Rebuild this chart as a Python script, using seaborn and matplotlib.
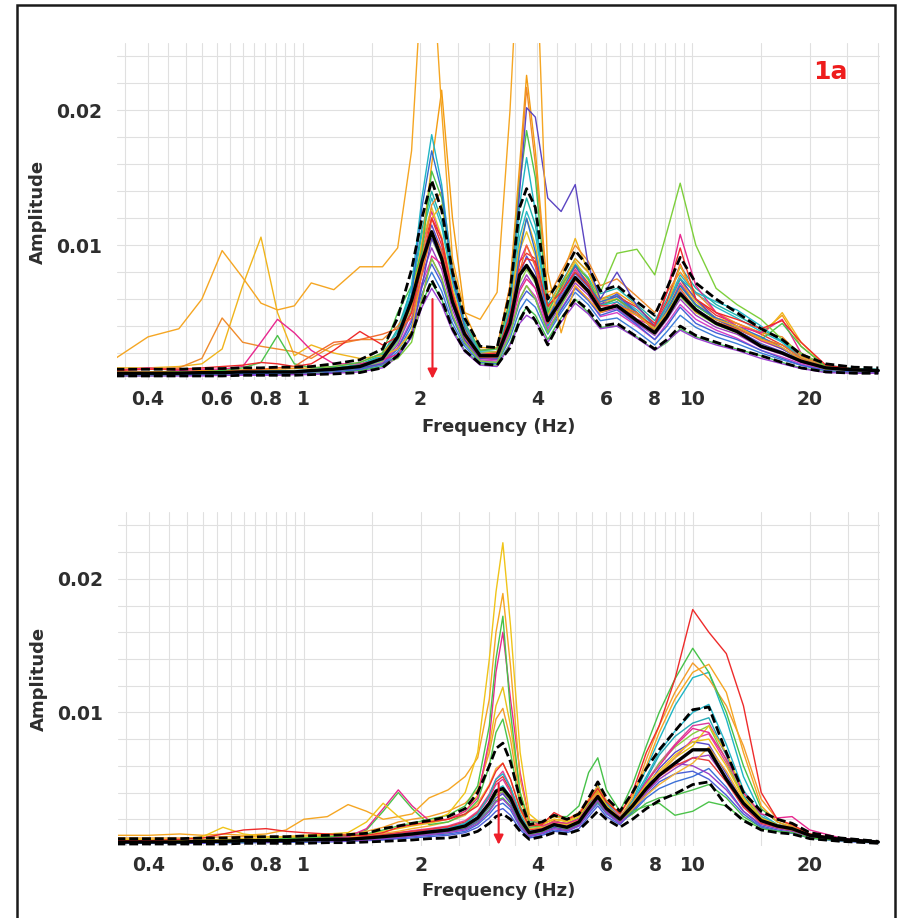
import matplotlib
matplotlib.use("Agg")
import matplotlib.pyplot as plt
from matplotlib.patches import Rectangle
from matplotlib.ticker import FixedLocator, FixedFormatter, NullFormatter
import pandas as pd
import seaborn as sns

# Spectral amplitudes are written in units of 1e-3.
UNIT = 1e-3

# ------------------------------------------------------------------ upper panel
freq_top = [0.33, 0.4, 0.48, 0.55, 0.62, 0.7, 0.78, 0.86, 0.95, 1.05, 1.2, 1.4, 1.6, 1.75, 1.9,
            2.02, 2.14, 2.27, 2.42, 2.6, 2.85, 3.15, 3.4, 3.6, 3.75, 3.95, 4.25, 4.6,
            5.0, 5.4, 5.8, 6.4, 7.2, 8.0, 8.6, 9.3, 10.2, 11.5, 13.0, 15.0, 17.0, 19.0, 22.0, 26.0, 30.0]

top_mean = [0.5, 0.5, 0.5, 0.55, 0.55, 0.6, 0.6, 0.6, 0.6, 0.7, 0.8, 1.0, 1.6, 3.2, 5.9,
            8.8, 11.0, 9.0, 5.8, 3.4, 1.8, 1.8, 4.2, 7.8, 8.5, 7.5, 4.4, 5.9,
            7.6, 6.6, 5.2, 5.5, 4.4, 3.5, 4.7, 6.4, 5.2, 4.2, 3.6, 2.5, 2.0, 1.4, 0.9, 0.75, 0.7]
top_upper = [0.8, 0.8, 0.8, 0.85, 0.85, 0.9, 0.9, 0.95, 0.95, 1.0, 1.2, 1.5, 2.3, 4.6, 8.2,
             12.0, 14.8, 12.6, 8.0, 4.6, 2.5, 2.4, 6.5, 12.8, 14.2, 12.8, 6.0, 7.6,
             9.6, 8.4, 6.6, 7.0, 5.8, 4.8, 6.8, 9.1, 7.2, 6.0, 5.0, 3.8, 3.0, 1.9, 1.2, 0.95, 0.9]
top_lower = [0.3, 0.3, 0.3, 0.3, 0.3, 0.35, 0.35, 0.35, 0.35, 0.4, 0.45, 0.55, 0.9, 1.8, 3.4,
             5.6, 7.4, 6.0, 3.8, 2.2, 1.2, 1.1, 2.4, 4.4, 5.4, 4.4, 2.6, 4.5,
             6.0, 5.2, 4.0, 4.2, 3.2, 2.3, 3.0, 4.0, 3.3, 2.8, 2.3, 1.8, 1.3, 0.9, 0.6, 0.5, 0.5]

# individual windows, upper panel
top_w01 = [0.4, 0.4, 0.4, 0.4, 0.45, 0.45, 0.5, 0.5, 0.5, 0.55, 0.65, 0.85, 1.3, 2.6, 5.0,
           7.8, 9.8, 8.2, 5.2, 3.0, 1.6, 1.5, 3.9, 6.8, 7.8, 6.8, 4.0, 5.6,
           7.2, 6.3, 5.0, 5.3, 4.2, 3.3, 4.5, 6.0, 4.8, 3.9, 3.4, 2.4, 1.9, 1.3, 0.8, 0.7, 0.65]
top_w02 = [0.45, 0.45, 0.5, 0.5, 0.5, 0.55, 0.55, 0.6, 0.6, 0.65, 0.75, 0.95, 1.5, 3.0, 5.6,
           10.0, 12.5, 10.4, 6.6, 3.8, 1.9, 1.8, 4.8, 8.8, 10.0, 8.6, 4.8, 6.4,
           8.2, 7.0, 5.6, 6.0, 4.8, 3.8, 5.2, 7.2, 5.6, 4.5, 3.9, 2.9, 2.3, 1.6, 0.9, 0.75, 0.7]
top_w03 = [0.35, 0.35, 0.35, 0.4, 0.4, 0.4, 0.45, 0.45, 0.45, 0.5, 0.6, 0.75, 1.1, 2.1, 4.0,
           6.4, 8.0, 6.6, 4.2, 2.5, 1.3, 1.2, 3.1, 5.2, 6.0, 5.4, 3.4, 5.0,
           6.5, 5.6, 4.4, 4.6, 3.6, 2.6, 3.6, 4.8, 3.9, 3.2, 2.7, 2.0, 1.5, 1.1, 0.7, 0.6, 0.6]
top_w04 = [0.5, 0.5, 0.5, 0.55, 0.55, 0.6, 0.6, 0.65, 0.65, 0.7, 0.85, 1.1, 1.8, 3.6, 6.4,
           10.8, 13.5, 11.4, 7.2, 4.0, 2.1, 2.0, 5.4, 10.6, 12.5, 10.8, 5.2, 6.8,
           8.6, 7.6, 6.0, 6.3, 5.2, 4.0, 5.6, 7.8, 6.4, 5.4, 4.6, 3.6, 2.8, 1.8, 1.0, 0.8, 0.75]
top_w05 = [0.3, 0.3, 0.35, 0.35, 0.35, 0.4, 0.4, 0.4, 0.45, 0.45, 0.55, 0.7, 1.0, 1.9, 3.6,
           5.8, 7.2, 6.0, 3.8, 2.2, 1.2, 1.1, 2.7, 4.6, 5.4, 4.8, 3.0, 4.6,
           6.0, 5.0, 3.9, 4.0, 3.2, 2.2, 2.8, 3.8, 3.2, 2.7, 2.3, 1.8, 1.3, 0.9, 0.6, 0.55, 0.5]
top_w06 = [0.45, 0.45, 0.45, 0.5, 0.5, 0.5, 0.55, 0.55, 0.6, 0.6, 0.7, 0.9, 1.4, 2.8, 5.2,
           9.2, 11.5, 9.6, 6.0, 3.4, 1.7, 1.6, 4.3, 7.8, 9.2, 8.0, 4.6, 6.2,
           7.9, 6.9, 5.6, 6.4, 5.0, 3.7, 4.9, 6.6, 5.3, 4.3, 3.7, 2.7, 2.1, 1.4, 0.85, 0.7, 0.7]
top_w07 = [0.4, 0.4, 0.45, 0.45, 0.45, 0.5, 0.5, 0.5, 0.55, 0.55, 0.65, 0.85, 1.3, 2.4, 4.5,
           7.2, 9.0, 7.5, 4.8, 2.8, 1.5, 1.4, 3.6, 6.0, 7.0, 6.2, 3.8, 5.3,
           6.9, 6.0, 4.7, 5.0, 4.0, 3.0, 4.2, 5.6, 4.5, 3.7, 3.1, 2.2, 1.7, 1.2, 0.75, 0.65, 0.6]
top_w08 = [0.5, 0.5, 0.55, 0.55, 0.6, 0.6, 0.65, 0.65, 0.7, 0.75, 0.9, 1.15, 1.9, 3.8, 6.8,
           11.2, 14.0, 11.8, 7.6, 4.2, 2.2, 2.1, 5.9, 11.5, 13.5, 11.5, 5.6, 7.2,
           9.0, 8.0, 6.4, 6.8, 5.6, 4.4, 6.0, 8.4, 6.8, 5.6, 4.8, 3.8, 2.9, 1.9, 1.1, 0.85, 0.8]
top_w09 = [0.45, 0.5, 0.5, 0.5, 0.55, 0.55, 0.6, 0.6, 0.6, 0.65, 0.8, 1.0, 1.6, 3.2, 5.8,
           9.6, 12.0, 10.0, 6.4, 3.6, 1.9, 1.8, 4.8, 8.8, 9.4, 9.0, 5.4, 6.8,
           8.4, 7.2, 5.8, 6.2, 5.4, 4.2, 5.8, 8.6, 6.0, 4.8, 4.2, 3.4, 2.6, 1.8, 0.95, 0.8, 0.7]
top_w10 = [0.35, 0.35, 0.35, 0.35, 0.4, 0.4, 0.4, 0.45, 0.45, 0.5, 0.6, 0.8, 1.2, 2.3, 4.3,
           6.9, 8.6, 7.2, 4.6, 2.7, 1.4, 1.3, 3.4, 5.8, 6.6, 6.0, 3.6, 5.2,
           6.8, 5.9, 4.8, 5.2, 4.1, 3.0, 4.0, 5.4, 4.2, 3.5, 3.0, 2.2, 1.6, 1.1, 0.7, 0.6, 0.6]
top_w11 = [0.4, 0.4, 0.45, 0.45, 0.45, 0.5, 0.5, 0.5, 0.55, 0.55, 0.7, 0.9, 1.4, 2.8, 5.2,
           8.4, 10.5, 8.8, 5.6, 3.2, 1.7, 1.6, 4.0, 7.2, 8.2, 7.2, 4.2, 5.9,
           7.6, 6.6, 5.2, 5.6, 4.4, 3.4, 4.6, 6.2, 5.0, 4.1, 3.5, 2.6, 2.0, 1.4, 0.8, 0.7, 0.65]
top_w12 = [0.3, 0.3, 0.3, 0.3, 0.35, 0.35, 0.35, 0.35, 0.4, 0.4, 0.5, 0.6, 0.9, 1.7, 3.2,
           5.4, 6.8, 5.6, 3.6, 2.1, 1.1, 1.0, 2.6, 4.2, 4.8, 4.4, 2.8, 4.3,
           5.7, 4.9, 3.8, 4.0, 3.1, 2.2, 2.9, 3.7, 3.1, 2.6, 2.2, 1.6, 1.2, 0.85, 0.55, 0.5, 0.5]
top_w13 = [0.5, 0.5, 0.5, 0.55, 0.55, 0.6, 0.6, 0.6, 0.65, 0.7, 0.8, 1.0, 1.6, 3.2, 6.0,
           10.2, 12.8, 10.6, 6.8, 3.8, 2.0, 1.9, 5.1, 9.6, 11.0, 9.2, 4.8, 6.6,
           8.8, 7.4, 5.8, 6.0, 5.0, 3.8, 5.2, 7.6, 5.8, 4.6, 3.9, 3.1, 2.6, 1.7, 0.9, 0.75, 0.7]
top_w14 = [0.6, 0.6, 0.65, 0.7, 0.7, 0.75, 0.8, 0.8, 0.85, 0.9, 1.0, 1.3, 2.0, 3.2, 5.5,
           10.0, 16.0, 21.5, 12.0, 5.0, 2.4, 2.4, 7.0, 16.0, 22.6, 17.0, 6.5, 7.0,
           9.0, 8.0, 6.0, 6.5, 5.5, 4.0, 5.5, 7.5, 5.5, 4.6, 4.2, 3.5, 4.8, 2.5, 1.0, 0.8, 0.7]
top_w15 = [0.9, 0.9, 1.0, 1.2, 2.3, 7.0, 10.6, 5.0, 1.8, 2.6, 2.0, 1.6, 1.8, 2.3, 3.6,
           8.0, 12.0, 13.0, 8.0, 4.0, 2.0, 2.1, 5.6, 10.0, 12.0, 10.0, 5.0, 7.5,
           10.5, 8.0, 6.0, 6.0, 5.0, 3.8, 5.5, 8.5, 6.0, 4.5, 3.8, 3.2, 5.0, 2.8, 1.0, 0.8, 0.7]
top_w16 = [0.8, 0.8, 0.9, 1.6, 4.6, 2.8, 2.5, 2.3, 2.1, 1.6, 2.6, 3.0, 3.0, 4.0, 5.5,
           9.0, 13.0, 14.0, 8.5, 4.2, 2.2, 2.4, 7.0, 15.0, 21.7, 16.0, 6.0, 8.0,
           10.0, 8.8, 7.0, 7.5, 6.2, 5.0, 6.5, 8.0, 6.5, 5.0, 4.2, 3.5, 3.2, 1.8, 1.0, 0.8, 0.7]
top_w17 = [0.7, 0.9, 0.7, 0.8, 0.8, 1.0, 2.8, 4.5, 3.5, 2.2, 1.2, 1.2, 1.5, 1.9, 3.2,
           6.0, 9.2, 8.6, 5.6, 3.0, 1.6, 1.6, 3.8, 6.6, 7.5, 6.8, 4.0, 6.0,
           7.5, 6.5, 5.0, 5.8, 4.5, 4.0, 6.5, 10.8, 7.0, 5.0, 4.0, 3.5, 4.5, 2.0, 1.0, 0.8, 0.7]
top_w18 = [0.5, 0.5, 0.6, 0.6, 0.7, 0.9, 1.3, 3.3, 1.2, 0.9, 1.0, 1.3, 2.0, 5.0, 7.0,
           9.5, 15.5, 13.5, 8.0, 4.2, 2.2, 2.3, 6.0, 14.5, 18.5, 15.0, 5.0, 7.0,
           8.5, 7.5, 5.5, 6.0, 5.0, 3.8, 5.0, 7.0, 5.5, 4.5, 3.8, 3.0, 4.2, 2.5, 1.0, 0.8, 0.7]
top_w19 = [0.4, 0.4, 0.4, 0.5, 0.5, 0.5, 0.5, 0.6, 0.6, 0.6, 0.7, 0.9, 1.2, 1.6, 2.8,
           6.0, 9.0, 7.6, 4.8, 2.8, 1.4, 1.3, 3.4, 6.0, 7.0, 6.0, 3.5, 5.5,
           7.5, 6.5, 6.5, 9.4, 9.7, 7.8, 11.0, 14.6, 10.0, 6.8, 5.6, 4.5, 3.0, 2.0, 1.0, 0.8, 0.7]
top_w20 = [0.4, 0.4, 0.45, 0.45, 0.5, 0.5, 0.5, 0.55, 0.55, 0.6, 0.7, 0.9, 1.2, 1.7, 3.2,
           7.0, 10.5, 9.0, 5.6, 3.0, 1.6, 1.7, 5.2, 14.0, 20.2, 19.5, 13.5, 12.5,
           14.5, 8.5, 6.0, 8.0, 5.5, 4.0, 5.5, 7.5, 6.0, 4.5, 3.8, 3.0, 2.3, 1.5, 0.9, 0.7, 0.7]
top_w21 = [0.5, 0.5, 0.5, 0.5, 0.55, 0.55, 0.6, 0.6, 0.6, 0.65, 0.75, 0.95, 1.6, 3.2, 7.0,
           13.5, 18.2, 14.5, 8.0, 4.2, 2.0, 1.9, 5.4, 13.0, 16.5, 12.5, 4.0, 6.0,
           8.0, 7.0, 5.5, 5.8, 4.8, 3.8, 5.5, 7.5, 6.5, 5.8, 5.2, 4.0, 2.8, 1.6, 0.9, 0.7, 0.7]
top_w22 = [0.4, 0.4, 0.4, 0.45, 0.45, 0.5, 0.5, 0.5, 0.55, 0.6, 0.7, 0.9, 1.5, 3.0, 6.2,
           12.8, 17.0, 14.0, 7.6, 3.9, 1.8, 1.6, 4.0, 9.5, 12.0, 9.5, 4.5, 6.5,
           8.5, 7.0, 5.8, 6.2, 5.0, 3.6, 5.2, 7.0, 5.6, 4.6, 4.0, 3.2, 2.4, 1.5, 0.9, 0.7, 0.7]
top_w23 = [0.7, 0.8, 0.8, 0.9, 1.0, 1.1, 1.3, 1.2, 1.0, 1.2, 2.2, 3.6, 2.6, 3.2, 5.0,
           8.5, 12.0, 10.5, 6.4, 3.4, 1.9, 2.0, 4.8, 8.2, 9.0, 8.8, 5.5, 6.5,
           8.0, 7.0, 5.5, 5.5, 4.8, 4.0, 6.5, 9.8, 6.0, 5.0, 4.5, 3.8, 4.4, 2.8, 1.1, 0.8, 0.7]
top_w24 = [0.5, 0.5, 0.55, 0.6, 0.6, 0.7, 0.8, 0.9, 1.0, 1.8, 2.8, 3.0, 3.4, 3.8, 4.6,
           7.8, 11.0, 9.6, 6.0, 3.2, 1.7, 1.7, 4.3, 8.0, 10.0, 8.4, 4.2, 6.0,
           7.4, 6.5, 5.0, 5.5, 5.0, 3.6, 4.6, 6.8, 5.2, 4.3, 3.8, 3.0, 2.6, 1.6, 0.9, 0.75, 0.7]
top_w25 = [1.6, 3.2, 3.8, 6.0, 9.6, 7.6, 5.7, 5.2, 5.5, 7.2, 6.7, 8.4, 8.4, 9.8, 17.0,
           30.0, 32.0, 20.0, 9.0, 5.0, 4.5, 6.5, 20.0, 34.0, 34.0, 34.0, 8.0, 3.5,
           7.0, 6.0, 5.0, 5.5, 4.8, 3.8, 5.0, 6.5, 5.0, 4.5, 4.0, 3.0, 2.4, 1.5, 0.9, 0.7, 0.7]

top_windows = [top_w01, top_w02, top_w03, top_w04, top_w05, top_w06, top_w07, top_w08,
               top_w09, top_w10, top_w11, top_w12, top_w13, top_w14, top_w15, top_w16,
               top_w17, top_w18, top_w19, top_w20, top_w21, top_w22, top_w23, top_w24, top_w25]
top_colors = ["#a040c0", "#e0309a", "#3b7dd8", "#27b9c9", "#45bf4f", "#5a4fcf", "#d43fc6",
              "#20b2aa", "#e8333a", "#4460d8", "#8fd14f", "#9b3fd0", "#e6c229",
              "#f39c12", "#f0b41c", "#ef8b2c", "#e8288f", "#4cc34a", "#7dcf3b", "#5b45c2",
              "#1fb5c4", "#2f6fd0", "#ee2b2b", "#f26a2e", "#f5a623"]

# ------------------------------------------------------------------ lower panel
freq_bot = [0.33, 0.4, 0.48, 0.55, 0.62, 0.7, 0.8, 0.9, 1.0, 1.15, 1.3, 1.45, 1.6, 1.75, 1.9,
            2.1, 2.35, 2.6, 2.8, 3.0, 3.12, 3.25, 3.4, 3.6, 3.8, 4.1, 4.4, 4.75,
            5.1, 5.4, 5.7, 6.0, 6.5, 7.0, 7.6, 8.2, 9.0, 10.0, 11.0, 12.2, 13.5, 15.0, 16.5, 18.0, 20.0, 24.0, 30.0]

bot_mean = [0.3, 0.3, 0.3, 0.35, 0.35, 0.4, 0.4, 0.4, 0.45, 0.5, 0.5, 0.6, 0.7, 0.8, 0.9,
            1.05, 1.2, 1.5, 2.1, 3.2, 4.1, 4.3, 3.6, 2.0, 1.0, 1.2, 1.6, 1.4,
            1.8, 2.8, 3.7, 2.8, 2.0, 3.0, 4.3, 5.3, 6.2, 7.2, 7.2, 5.0, 3.2, 1.9, 1.5, 1.3, 0.8, 0.5, 0.3]
bot_upper = [0.55, 0.55, 0.55, 0.6, 0.6, 0.65, 0.7, 0.7, 0.75, 0.8, 0.85, 0.95, 1.3, 1.5, 1.7,
             1.9, 2.2, 2.8, 4.0, 6.0, 7.3, 7.7, 6.3, 3.5, 1.6, 1.8, 2.3, 2.0,
             2.4, 3.6, 4.8, 3.6, 2.6, 4.0, 5.8, 7.2, 8.6, 10.2, 10.4, 7.0, 4.0, 2.6, 2.0, 1.7, 1.0, 0.6, 0.35]
bot_lower = [0.15, 0.15, 0.15, 0.15, 0.15, 0.2, 0.2, 0.2, 0.2, 0.25, 0.25, 0.3, 0.35, 0.4, 0.45,
             0.55, 0.6, 0.8, 1.1, 1.7, 2.2, 2.4, 2.0, 1.1, 0.5, 0.7, 1.0, 0.9,
             1.2, 1.9, 2.6, 2.0, 1.4, 2.0, 2.8, 3.4, 3.9, 4.6, 4.8, 3.0, 1.9, 1.2, 1.0, 0.9, 0.55, 0.35, 0.2]

# individual windows, lower panel
bot_w01 = [0.3, 0.3, 0.3, 0.3, 0.35, 0.35, 0.4, 0.4, 0.4, 0.45, 0.5, 0.55, 0.65, 0.75, 0.85,
           1.0, 1.1, 1.4, 2.0, 3.0, 3.8, 4.0, 3.3, 1.8, 0.9, 1.1, 1.5, 1.3,
           1.7, 2.7, 3.6, 2.7, 1.9, 2.8, 4.0, 5.0, 5.8, 6.6, 6.8, 5.0, 3.0, 1.8, 1.4, 1.2, 0.75, 0.45, 0.3]
bot_w02 = [0.35, 0.35, 0.35, 0.4, 0.4, 0.45, 0.45, 0.5, 0.5, 0.55, 0.6, 0.7, 0.8, 0.95, 1.05,
           1.2, 1.4, 1.7, 2.4, 3.6, 4.6, 5.0, 4.0, 2.2, 1.1, 1.3, 1.7, 1.5,
           1.9, 3.0, 4.0, 3.0, 2.1, 3.2, 4.8, 6.2, 7.6, 9.0, 9.2, 6.8, 4.0, 2.2, 1.6, 1.4, 0.85, 0.5, 0.3]
bot_w03 = [0.2, 0.2, 0.2, 0.25, 0.25, 0.25, 0.3, 0.3, 0.3, 0.35, 0.4, 0.45, 0.5, 0.6, 0.7,
           0.8, 0.9, 1.1, 1.6, 2.4, 3.0, 3.2, 2.7, 1.4, 0.7, 0.9, 1.2, 1.1,
           1.5, 2.4, 3.2, 2.4, 1.7, 2.5, 3.6, 4.3, 4.8, 5.2, 5.8, 4.4, 2.6, 1.5, 1.2, 1.0, 0.65, 0.4, 0.25]
bot_w04 = [0.3, 0.3, 0.3, 0.35, 0.35, 0.4, 0.4, 0.4, 0.45, 0.5, 0.55, 0.6, 0.7, 0.8, 0.95,
           1.1, 1.3, 1.6, 2.2, 3.3, 4.2, 4.5, 3.7, 2.0, 1.0, 1.2, 1.6, 1.4,
           1.8, 3.0, 4.4, 3.2, 2.2, 3.4, 5.2, 7.0, 8.6, 10.0, 10.6, 7.6, 4.2, 2.2, 1.6, 1.3, 0.8, 0.5, 0.3]
bot_w05 = [0.25, 0.25, 0.25, 0.3, 0.3, 0.3, 0.35, 0.35, 0.35, 0.4, 0.45, 0.5, 0.6, 0.7, 0.8,
           0.9, 1.0, 1.3, 1.8, 2.7, 3.4, 3.6, 3.0, 1.6, 0.8, 1.0, 1.4, 1.2,
           1.6, 2.6, 3.3, 2.5, 1.8, 2.4, 3.2, 3.6, 3.8, 4.2, 4.6, 3.6, 2.2, 1.4, 1.1, 1.0, 0.6, 0.4, 0.25]
bot_w06 = [0.25, 0.25, 0.3, 0.3, 0.3, 0.35, 0.35, 0.35, 0.4, 0.4, 0.45, 0.5, 0.6, 0.7, 0.8,
           0.95, 1.1, 1.3, 1.9, 2.9, 3.6, 3.9, 3.2, 1.7, 0.85, 1.0, 1.4, 1.25,
           1.6, 2.6, 3.5, 2.6, 1.8, 2.9, 4.4, 5.8, 7.0, 7.8, 7.6, 5.4, 3.2, 1.9, 1.4, 1.2, 0.75, 0.45, 0.3]
bot_w07 = [0.35, 0.35, 0.4, 0.4, 0.45, 0.45, 0.5, 0.5, 0.55, 0.6, 0.65, 0.75, 0.9, 1.0, 1.15,
           1.3, 1.5, 1.9, 2.6, 3.9, 5.0, 5.6, 4.4, 2.4, 1.2, 1.4, 1.8, 1.6,
           2.0, 3.1, 4.1, 3.1, 2.2, 3.0, 4.2, 5.4, 6.6, 8.0, 8.4, 6.2, 3.6, 2.0, 1.5, 1.3, 0.8, 0.5, 0.3]
bot_w08 = [0.2, 0.2, 0.2, 0.2, 0.25, 0.25, 0.25, 0.3, 0.3, 0.3, 0.35, 0.4, 0.45, 0.55, 0.6,
           0.7, 0.8, 1.0, 1.4, 2.1, 2.6, 2.8, 2.3, 1.2, 0.6, 0.8, 1.1, 1.0,
           1.3, 2.2, 3.0, 2.2, 1.6, 2.6, 3.8, 4.8, 5.4, 5.6, 5.0, 3.8, 2.4, 1.4, 1.1, 0.95, 0.6, 0.35, 0.22]
bot_w09 = [0.3, 0.3, 0.3, 0.35, 0.35, 0.35, 0.4, 0.4, 0.4, 0.45, 0.5, 0.6, 0.7, 0.8, 0.9,
           1.05, 1.2, 1.5, 2.1, 3.2, 4.0, 4.3, 3.5, 1.9, 0.95, 1.1, 1.5, 1.35,
           1.7, 2.8, 3.9, 2.9, 2.0, 3.2, 5.0, 6.8, 8.2, 9.2, 9.6, 6.8, 3.8, 2.0, 1.5, 1.25, 0.8, 0.45, 0.3]
bot_w10 = [0.25, 0.25, 0.25, 0.25, 0.3, 0.3, 0.3, 0.35, 0.35, 0.35, 0.4, 0.45, 0.55, 0.65, 0.75,
           0.85, 1.0, 1.2, 1.7, 2.6, 3.3, 3.5, 2.9, 1.5, 0.75, 0.95, 1.3, 1.15,
           1.5, 2.5, 3.4, 2.5, 1.7, 2.7, 4.0, 5.2, 6.2, 6.0, 5.4, 4.2, 2.6, 1.6, 1.3, 1.1, 0.7, 0.4, 0.25]
bot_w11 = [0.3, 0.3, 0.3, 0.3, 0.35, 0.35, 0.35, 0.4, 0.4, 0.45, 0.5, 0.55, 0.65, 0.75, 0.85,
           1.0, 1.15, 1.4, 2.0, 3.0, 3.8, 4.1, 3.4, 1.8, 0.9, 1.1, 1.5, 1.3,
           1.7, 2.7, 3.6, 2.7, 1.9, 3.0, 4.6, 6.2, 7.4, 8.4, 9.0, 6.4, 3.6, 1.9, 1.4, 1.2, 0.75, 0.45, 0.3]
bot_w12 = [0.35, 0.35, 0.35, 0.4, 0.4, 0.45, 0.5, 0.5, 0.5, 0.55, 0.6, 0.7, 0.85, 1.0, 1.1,
           1.25, 1.45, 1.8, 2.5, 3.8, 4.8, 5.2, 4.2, 2.3, 1.2, 1.4, 1.9, 1.6,
           2.0, 3.1, 4.1, 3.0, 2.1, 3.0, 4.2, 5.2, 6.0, 6.6, 6.4, 4.8, 2.9, 1.7, 1.4, 1.2, 0.75, 0.45, 0.3]
bot_w13 = [0.4, 0.4, 0.4, 0.45, 0.45, 0.5, 0.5, 0.55, 0.6, 0.65, 0.7, 0.8, 0.95, 1.1, 1.3,
           1.5, 1.8, 2.3, 3.2, 4.6, 5.8, 6.2, 5.0, 2.7, 1.3, 1.4, 1.8, 1.6,
           2.0, 3.0, 3.9, 2.9, 2.0, 2.8, 3.8, 4.6, 5.4, 6.2, 7.4, 5.6, 3.4, 1.9, 1.5, 1.3, 0.8, 0.5, 0.3]
bot_w14 = [0.25, 0.25, 0.25, 0.3, 0.3, 0.3, 0.35, 0.35, 0.4, 0.4, 0.45, 0.55, 0.65, 0.75, 0.9,
           1.1, 1.3, 1.7, 2.4, 3.8, 5.0, 5.4, 4.4, 2.4, 1.1, 1.2, 1.5, 1.4,
           1.8, 3.0, 4.6, 3.2, 2.0, 3.4, 5.8, 8.0, 10.5, 12.6, 13.0, 9.5, 5.2, 2.4, 1.6, 1.3, 0.8, 0.5, 0.3]
bot_w15 = [0.3, 0.3, 0.35, 0.35, 0.4, 0.4, 0.45, 0.5, 0.55, 0.6, 0.7, 1.2, 2.6, 4.0, 2.8,
           1.6, 1.8, 2.4, 3.4, 6.0, 8.5, 9.5, 7.0, 3.0, 1.4, 1.5, 1.8, 1.7,
           2.1, 3.2, 4.2, 3.0, 2.0, 2.6, 3.0, 3.2, 2.3, 2.6, 3.3, 3.0, 2.0, 1.3, 1.1, 1.0, 0.6, 0.4, 0.25]
bot_w16 = [0.4, 0.4, 0.4, 0.45, 0.5, 0.55, 0.6, 0.6, 0.65, 0.7, 0.8, 0.9, 1.1, 1.3, 1.5,
           1.7, 2.0, 2.6, 3.8, 7.5, 10.5, 11.9, 9.0, 4.0, 1.6, 1.5, 1.8, 1.6,
           2.0, 3.0, 3.6, 2.8, 1.9, 2.8, 4.2, 5.4, 6.6, 7.5, 9.0, 7.0, 4.0, 2.1, 1.6, 1.3, 0.8, 0.5, 0.3]
bot_w17 = [0.6, 0.6, 0.6, 0.6, 0.7, 0.7, 0.7, 0.7, 0.75, 0.8, 0.9, 1.1, 1.4, 1.8, 2.0,
           2.2, 2.6, 3.2, 4.2, 7.0, 9.5, 10.3, 8.0, 3.5, 1.6, 1.7, 2.0, 1.9,
           2.3, 3.3, 4.0, 3.0, 2.1, 3.6, 6.5, 9.0, 11.5, 13.7, 12.5, 10.5, 7.5, 3.5, 2.0, 1.5, 0.9, 0.5, 0.3]
bot_w18 = [0.3, 0.3, 0.3, 0.35, 0.35, 0.4, 0.45, 0.5, 0.5, 0.55, 0.7, 1.3, 2.8, 4.2, 3.0,
           1.9, 2.0, 2.6, 3.6, 8.0, 13.0, 16.0, 11.0, 5.5, 2.0, 1.5, 1.8, 1.7,
           2.0, 3.0, 3.8, 2.9, 2.0, 3.2, 4.8, 6.0, 7.5, 8.8, 8.5, 6.5, 4.0, 2.4, 2.1, 2.2, 1.2, 0.6, 0.3]
bot_w19 = [0.3, 0.3, 0.3, 0.35, 0.4, 0.45, 0.5, 0.55, 0.6, 0.7, 0.8, 0.9, 1.2, 1.5, 1.7,
           2.0, 2.3, 3.0, 4.5, 9.0, 14.0, 17.2, 10.0, 4.0, 1.8, 1.8, 2.2, 2.2,
           3.0, 5.5, 6.6, 4.2, 2.6, 4.6, 7.5, 10.0, 12.5, 14.8, 13.0, 10.0, 6.0, 2.8, 1.8, 1.4, 0.8, 0.5, 0.3]
bot_w20 = [0.8, 0.8, 0.9, 0.8, 0.9, 0.8, 0.9, 1.2, 2.0, 2.2, 3.1, 2.6, 2.0, 2.2, 2.4,
           3.6, 4.2, 5.2, 6.6, 11.0, 16.0, 18.9, 13.5, 5.0, 2.0, 1.8, 2.2, 2.0,
           2.5, 3.5, 4.5, 3.4, 2.4, 3.8, 6.0, 8.5, 11.0, 13.0, 13.6, 11.5, 7.0, 3.0, 1.8, 1.4, 0.8, 0.5, 0.3]
bot_w21 = [0.5, 0.5, 0.5, 0.7, 1.4, 0.9, 0.7, 0.7, 0.8, 0.9, 1.0, 1.8, 3.2, 2.2, 1.6,
           1.8, 2.4, 4.0, 7.0, 14.0, 19.0, 22.7, 16.5, 7.0, 2.4, 1.6, 2.0, 1.8,
           2.2, 3.4, 4.2, 3.0, 2.0, 3.2, 4.6, 5.6, 6.8, 7.8, 8.0, 6.0, 3.6, 2.0, 1.5, 1.3, 0.8, 0.5, 0.3]
bot_w22 = [0.4, 0.4, 0.5, 0.6, 0.9, 1.2, 1.3, 1.1, 1.0, 0.9, 0.8, 0.8, 1.0, 1.4, 1.6,
           1.8, 2.0, 2.4, 3.0, 4.5, 5.6, 6.2, 5.0, 2.8, 1.5, 1.6, 2.5, 2.0,
           2.4, 3.4, 4.3, 3.3, 2.4, 4.0, 7.0, 9.0, 12.5, 17.7, 16.0, 14.4, 10.5, 4.0, 2.0, 1.6, 0.9, 0.5, 0.3]

bot_windows = [bot_w01, bot_w02, bot_w03, bot_w04, bot_w05, bot_w06, bot_w07, bot_w08,
               bot_w09, bot_w10, bot_w11, bot_w12, bot_w13, bot_w14, bot_w15, bot_w16,
               bot_w17, bot_w18, bot_w19, bot_w20, bot_w21, bot_w22]
bot_colors = ["#a040c0", "#d93a9c", "#3b6fd6", "#22b4c8", "#4bbf4b", "#5a48c8", "#e5409e",
              "#4a5fd8", "#26a8b5", "#9a3fc8", "#86cf3e", "#e83a3a", "#f2b134",
              "#1fb5c4", "#4cc34a", "#e8c21a", "#f39c2b", "#e8288f", "#47c24a", "#f5a623",
              "#f0c419", "#ee2b2b"]

# ------------------------------------------------------------------ axis ticks
x_major = [0.4, 0.6, 0.8, 1, 2, 4, 6, 8, 10, 20]
x_major_labels = ["0.4", "0.6", "0.8", "1", "2", "4", "6", "8", "10", "20"]
x_minor = [0.35, 0.45, 0.5, 0.55, 0.65, 0.7, 0.75, 0.85, 0.9, 0.95,
           1.5, 2.5, 3, 3.5, 4.5, 5, 5.5, 6.5, 7, 7.5, 8.5, 9, 9.5, 15, 25, 30]
y_major = [0.01, 0.02]
y_major_labels = ["0.01", "0.02"]
y_minor = [0.002, 0.004, 0.006, 0.008, 0.012, 0.014, 0.016, 0.018, 0.022, 0.024]

TEXT = "#2e2e2e"


def window_frame(freq, windows):
    rows = []
    for i, vals in enumerate(windows):
        if len(vals) != len(freq):
            raise ValueError(f"window {i} has {len(vals)} values, expected {len(freq)}")
        for f, a in zip(freq, vals):
            rows.append({"freq": f, "amp": a * UNIT, "window": f"w{i:02d}"})
    return pd.DataFrame(rows)


def draw_panel(ax, freq, windows, colors, mean, upper, lower, peak_f, arrow_top):
    df = window_frame(freq, windows)
    order = [f"w{i:02d}" for i in range(len(windows))]
    palette = dict(zip(order, colors))
    sns.lineplot(data=df, x="freq", y="amp", hue="window", hue_order=order,
                 palette=palette, estimator=None, sort=False, legend=False,
                 linewidth=1.0, ax=ax, zorder=2)
    for vals in (upper, lower):
        sns.lineplot(x=freq, y=[v * UNIT for v in vals], color="black",
                     linewidth=2.0, linestyle=(0, (3.2, 1.4)), ax=ax, zorder=4)
    sns.lineplot(x=freq, y=[v * UNIT for v in mean], color="black",
                 linewidth=2.4, ax=ax, zorder=5)
    ax.annotate("", xy=(peak_f, 0.0001), xytext=(peak_f, arrow_top),
                arrowprops=dict(arrowstyle="-|>", color="#ee1f2a", lw=1.5,
                                mutation_scale=14, shrinkA=0, shrinkB=0),
                zorder=6)

    ax.set_xscale("log")
    ax.set_xlim(0.333, 30.3)
    ax.set_ylim(0, 0.025)
    ax.xaxis.set_major_locator(FixedLocator(x_major))
    ax.xaxis.set_major_formatter(FixedFormatter(x_major_labels))
    ax.xaxis.set_minor_locator(FixedLocator(x_minor))
    ax.xaxis.set_minor_formatter(NullFormatter())
    ax.yaxis.set_major_locator(FixedLocator(y_major))
    ax.yaxis.set_major_formatter(FixedFormatter(y_major_labels))
    ax.yaxis.set_minor_locator(FixedLocator(y_minor))
    ax.yaxis.set_minor_formatter(NullFormatter())

    ax.grid(True, which="both", color="#e0e0e0", linewidth=0.8)
    ax.set_axisbelow(True)
    for s in ax.spines.values():
        s.set_visible(False)

    ax.tick_params(axis="x", which="both", direction="out", length=5, width=1.4,
                   color="#555555", labelsize=13.5, labelcolor=TEXT, pad=2)
    ax.tick_params(axis="y", which="major", direction="out", length=9, width=1.4,
                   color="#555555", labelsize=13.5, labelcolor=TEXT, pad=1.5)
    ax.tick_params(axis="y", which="minor", direction="out", length=4.5, width=1.4,
                   color="#555555")
    for lbl in ax.get_xticklabels() + ax.get_yticklabels():
        lbl.set_fontweight("bold")

    ax.set_xlabel("Frequency (Hz)", fontsize=13, fontweight="bold", color=TEXT, va="top")
    ax.set_ylabel("Amplitude", fontsize=13, fontweight="bold", color=TEXT)


sns.set_style("white")
plt.rcParams["font.family"] = ["DejaVu Sans"]

fig = plt.figure(figsize=(9.03, 9.18), dpi=100)
W, H = 903.0, 918.0

ax_top = fig.add_axes([117 / W, 1 - 380 / H, (880 - 117) / W, (380 - 43) / H])
ax_bot = fig.add_axes([118 / W, 1 - 846 / H, (880 - 118) / W, (846 - 512) / H])

draw_panel(ax_top, freq_top, top_windows, top_colors, top_mean, top_upper, top_lower,
           2.15, 0.0060)
draw_panel(ax_bot, freq_bot, bot_windows, bot_colors, bot_mean, bot_upper, bot_lower,
           3.17, 0.0047)

ax_top.xaxis.set_label_coords(0.5, -0.112)
ax_bot.xaxis.set_label_coords(0.5, -0.108)
ax_top.yaxis.set_label_coords(-0.092, 0.5)
ax_bot.yaxis.set_label_coords(-0.092, 0.5)

fig.text(830 / W, 1 - 72 / H, "1a", color="#ee1c1c", fontsize=18, fontweight="bold",
         ha="center", va="center")

fig.add_artist(Rectangle((17 / W, -0.01), (895.5 - 17) / W, (1 - 5 / H) + 0.01,
                         transform=fig.transFigure, fill=False, linewidth=1.8,
                         edgecolor="#1a1a1a"))

fig.savefig("out.png", dpi=100, facecolor="white")
